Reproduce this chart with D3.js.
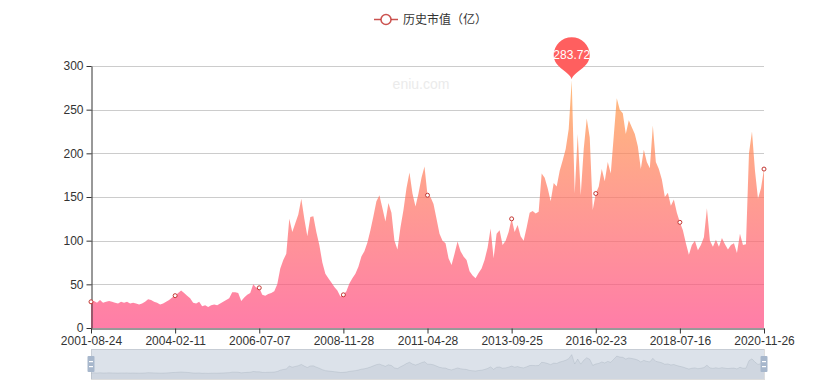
<!DOCTYPE html>
<html><head><meta charset="utf-8">
<script src="https://cdn.jsdelivr.net/npm/d3@7"></script>
<style>body{margin:0;background:#fff} svg{display:block}</style>
</head><body>
<svg id="c" width="820" height="391"></svg>
<script>
// ---------- data ----------
const tickLabels = ["2001-08-24","2004-02-11","2006-07-07","2008-11-28","2011-04-28","2013-09-25","2016-02-23","2018-07-16","2020-11-26"];
const tickStep = 28;
const yTicks = [0, 50, 100, 150, 200, 250, 300];
const seriesName = "历史市值（亿）";
const watermarkText = "eniu.com";
const marketCap = [
  30,31,29,32,29,30,31,30,29,28,30,29,30,28,29,28,27,28,30,33,32,30,29,27,28,30,32,35,
  37,40,43,40,37,34,29,28,30,25,26,24,26,27,26,28,30,32,34,41,41,40,31,35,38,40,50,46,
  46,38,37,39,40,42,50,68,78,85,125,110,120,130,148,125,105,127,128,110,95,75,62,57,52,47,43,36,
  38,42,51,57,62,70,82,88,98,112,128,145,152,137,122,143,132,100,90,115,135,160,178,154,139,154,172,185,
  152,150,142,125,108,100,97,80,72,85,99,88,82,78,65,60,57,63,68,78,92,114,80,108,112,95,100,110,
  125,110,118,105,100,115,132,134,131,133,177,172,160,145,166,162,180,192,205,228,283.72,154,222,152,205,240,218,135,
  154,162,182,168,190,177,220,263,250,246,222,238,230,222,208,182,204,190,183,232,190,182,170,150,155,140,147,132,
  121,112,97,84,95,100,89,95,104,137,100,93,101,93,103,96,90,95,97,86,108,95,96,200,225,180,148,160,182
];

// ---------- layout ----------
const svg = d3.select("#c");
const FONT = "'Microsoft YaHei','Liberation Sans','Noto Sans CJK SC',sans-serif";
const grid = {l: 91, r: 764, t: 66, b: 328};
const x = d3.scaleLinear().domain([0, marketCap.length - 1]).range([grid.l, grid.r]);
const y = d3.scaleLinear().domain([0, 300]).range([grid.b, grid.t]);
const tickIdx = tickLabels.map((_, i) => i * tickStep);
const seriesColor = "#c23531";

const defs = svg.append("defs");
const grad = defs.append("linearGradient").attr("id", "ag").attr("x1", 0).attr("y1", 0).attr("x2", 0).attr("y2", 1);
grad.append("stop").attr("offset", 0).attr("stop-color", "rgb(255,158,68)");
grad.append("stop").attr("offset", 1).attr("stop-color", "rgb(255,70,131)");

// watermark
svg.append("text").attr("x", 421).attr("y", 89).attr("text-anchor", "middle")
  .attr("font-family", FONT).attr("font-size", 14).attr("fill", "#ebebeb").text(watermarkText);

// grid lines
svg.append("g").selectAll("line").data(yTicks.filter(d => d > 0)).join("line")
  .attr("x1", grid.l).attr("x2", grid.r).attr("y1", d => Math.round(y(d)) + 0.5).attr("y2", d => Math.round(y(d)) + 0.5)
  .attr("stroke", "#ccc").attr("stroke-width", 1);

// area
const area = d3.area().x((d, i) => x(i)).y0(y(0)).y1(d => y(d));
svg.append("path").datum(marketCap).attr("d", area).attr("fill", "url(#ag)").attr("fill-opacity", 0.7);

// axes
const yAxis = svg.append("g").attr("transform", `translate(${grid.l + 0.5},0)`)
  .call(d3.axisLeft(y).tickValues(yTicks).tickSize(5).tickPadding(3).tickSizeOuter(0));
const xAxis = svg.append("g").attr("transform", `translate(0,${grid.b + 0.5})`)
  .call(d3.axisBottom(x).tickValues(tickIdx).tickFormat((d, i) => tickLabels[i]).tickSize(5).tickPadding(3).tickSizeOuter(0));
[yAxis, xAxis].forEach(g => {
  g.selectAll("path,line").attr("stroke", "#333");
  g.selectAll("text").attr("fill", "#333").attr("font-size", 12).attr("font-family", FONT);
});

// symbols at label positions
svg.append("g").selectAll("circle").data(tickIdx).join("circle")
  .attr("cx", d => x(d)).attr("cy", d => y(marketCap[d])).attr("r", 2)
  .attr("fill", "#fff").attr("stroke", seriesColor).attr("stroke-width", 1);

// max mark pin
const maxI = d3.maxIndex(marketCap);
const px = x(maxI), tipY = y(marketCap[maxI]) - 1;
const r = 18, cy = tipY - 24;
const pin = `M${px},${tipY} C${px - 2},${tipY - 8} ${px - r},${cy + r * 0.7} ${px - r},${cy} A${r},${r} 0 1 1 ${px + r},${cy} C${px + r},${cy + r * 0.7} ${px + 2},${tipY - 8} ${px},${tipY} Z`;
svg.append("path").attr("d", pin).attr("fill", "#ff5f5f");
svg.append("text").attr("x", px).attr("y", cy + 4).attr("text-anchor", "middle")
  .attr("font-family", FONT).attr("font-size", 12).attr("fill", "#fff").text(d3.format(".2f")(marketCap[maxI]));

// legend
const lg = svg.append("g");
lg.append("line").attr("x1", 374).attr("x2", 398).attr("y1", 19.5).attr("y2", 19.5).attr("stroke", seriesColor).attr("stroke-width", 1.5).attr("stroke-opacity", 0.85);
lg.append("circle").attr("cx", 386).attr("cy", 19.5).attr("r", 5).attr("fill", "#fff").attr("stroke", seriesColor).attr("stroke-width", 1.5).attr("stroke-opacity", 0.85);
lg.append("text").attr("x", 403).attr("y", 24).attr("font-family", FONT).attr("font-size", 12).attr("fill", "#333").text(seriesName);

// data zoom slider
const dz = {l: grid.l, r: grid.r, t: 349, h: 30};
const ext = d3.extent(marketCap), off = (ext[1] - ext[0]) * 0.3;
const sy = d3.scaleLinear().domain([ext[0] - off, ext[1] + off]).range([dz.t + dz.h, dz.t]);
svg.append("rect").attr("x", dz.l + 0.5).attr("y", dz.t + 0.5).attr("width", dz.r - dz.l).attr("height", dz.h)
  .attr("fill", "none").attr("stroke", "#ddd");
const sArea = d3.area().x((d, i) => x(i)).y0(dz.t + dz.h).y1(d => sy(d));
const sLine = d3.line().x((d, i) => x(i)).y(d => sy(d));
svg.append("path").datum(marketCap).attr("d", sArea).attr("fill", "rgba(47,69,84,0.1)");
svg.append("path").datum(marketCap).attr("d", sLine).attr("fill", "none").attr("stroke", "rgba(47,69,84,0.3)").attr("stroke-width", 0.5);
svg.append("rect").attr("x", dz.l).attr("y", dz.t).attr("width", dz.r - dz.l).attr("height", dz.h)
  .attr("fill", "rgba(167,183,203,0.4)");
[dz.l, dz.r].forEach(hx => {
  svg.append("rect").attr("x", hx - 3.5).attr("y", dz.t + 7).attr("width", 7).attr("height", dz.h - 14).attr("rx", 1)
    .attr("fill", "#a7b7cc");
  [dz.t + 12, dz.t + 17].forEach(ly => svg.append("rect").attr("x", hx - 2).attr("y", ly).attr("width", 4).attr("height", 1.2).attr("fill", "#fff"));
});
</script>
</body></html>
